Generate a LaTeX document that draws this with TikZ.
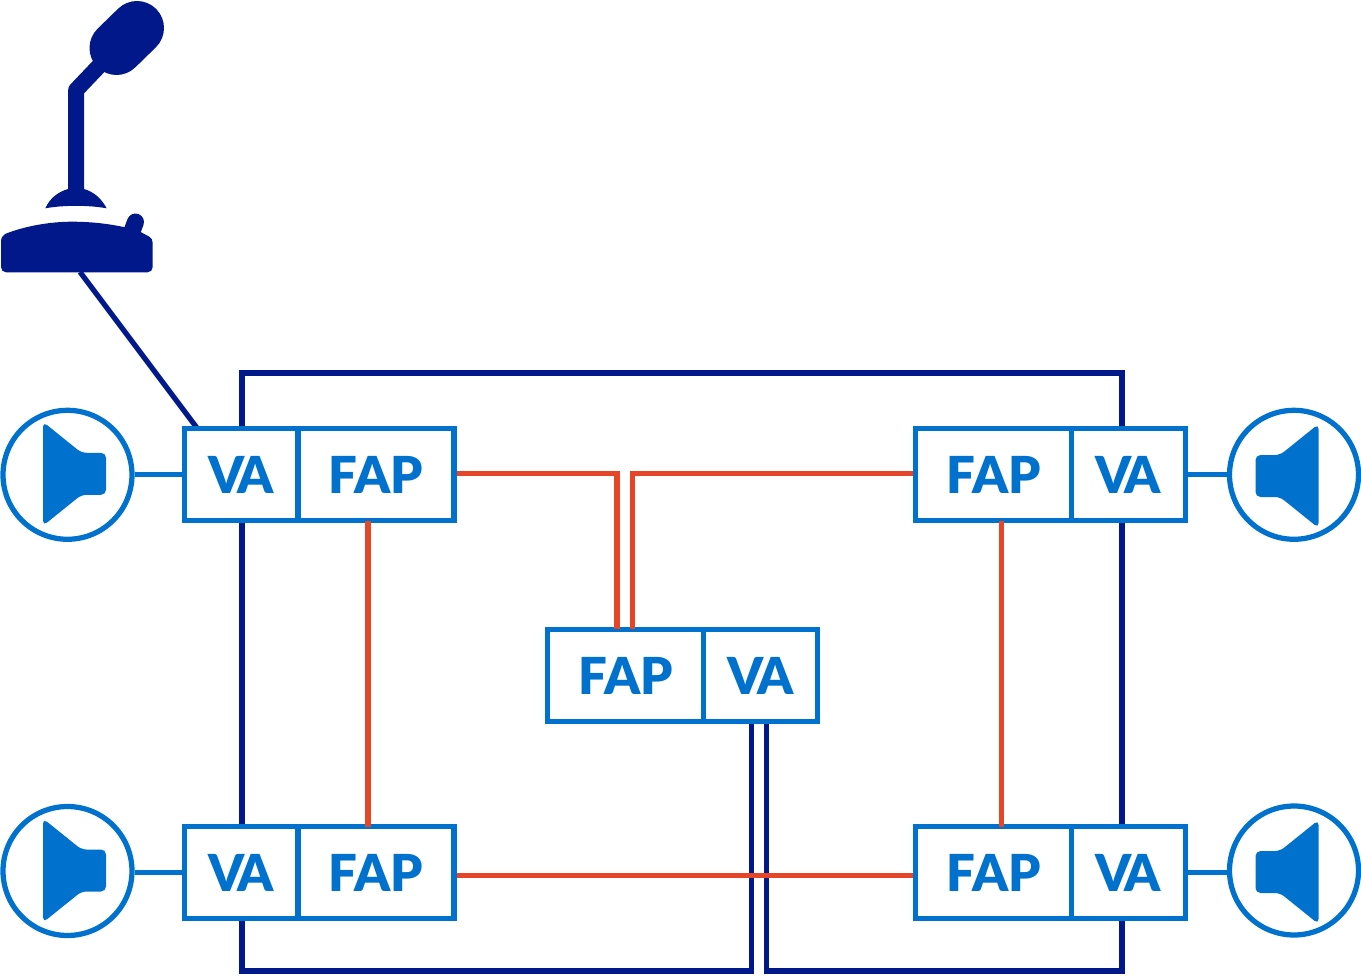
\documentclass[tikz,border=0pt]{standalone}
\usepackage{fontspec}
\setmainfont[BoldFont={Lato Black}]{Lato}
\usepackage{xcolor}
\usetikzlibrary{calc}
\definecolor{navy}{HTML}{00188A}
\definecolor{azure}{HTML}{0072CE}
\definecolor{signal}{HTML}{E64528}
\newcommand{\vatext}{V\kern-4pt A}

\begin{document}
\begin{tikzpicture}[x=0.02cm,y=-0.02cm]
\tikzset{
  vabox/.style={rectangle,draw=azure,fill=white,line width=0.105cm,minimum width=2.276cm,minimum height=1.84cm,inner sep=0pt,text=azure,font=\fontsize{29}{29}\selectfont\bfseries},
  fapbox/.style={vabox,minimum width=3.12cm},
  spkring/.style={circle,draw=azure,fill=white,line width=0.105cm,minimum size=2.58cm,inner sep=0pt},
  tapline/.style={draw=azure,line width=0.105cm},
  navyline/.style={draw=navy,line width=0.105cm},
  redline/.style={draw=signal,line width=0.105cm},
  spkglyph/.pic={
    \fill[azure,rounded corners=0.1cm] (-24.5,-52) -- (14,-21) -- (38.5,-21) -- (38.5,21) -- (14,21) -- (-24.5,52) -- cycle;
  }
}
\useasboundingbox (0,0) rectangle (1361,979);
% loop wiring
\coordinate (cTL) at (242,373);
\coordinate (cTR) at (1122,373);
\coordinate (cBL) at (242,971);
\coordinate (cBM) at (751.5,971);
\coordinate (cBN) at (766.5,971);
\coordinate (cBR) at (1122,971);
\coordinate (micfoot) at (80,272);
\coordinate (mictap) at (197,428);
\draw[navyline] (751.5,723) -- (cBM) -- (cBL) -- (cTL) -- (cTR) -- (cBR) -- (cBN) -- (766.5,723);
\draw[navyline] (micfoot) -- (mictap);
\node[vabox] (vaTL) at (241.4,474.8) {\vatext};
\node[fapbox] (fapTL) at (376,474.8) {FAP};
\node[vabox] (vaBL) at (241.4,872.5) {\vatext};
\node[fapbox] (fapBL) at (376,872.5) {FAP};
\node[fapbox] (fapTR) at (993.5,474.8) {FAP};
\node[vabox] (vaTR) at (1128.3,474.8) {\vatext};
\node[fapbox] (fapBR) at (993.5,872.5) {FAP};
\node[vabox] (vaBR) at (1128.3,872.5) {\vatext};
\node[fapbox] (fapM) at (625.5,675.8) {FAP};
\node[vabox] (vaM) at (760.5,675.8) {\vatext};
% red links
\draw[redline] (fapTL.east |- 0,473.3) -| (617,629);
\draw[redline] (fapTR.west |- 0,473.3) -| (632.8,629);
\draw[redline] (368,520.7) -- (368,826.5);
\draw[redline] (1001.5,520.7) -- (1001.5,826.5);
\draw[redline] (fapBL.east |- 0,875.5) -- (fapBR.west |- 0,875.5);
% speakers
\node[spkring] (spkTL) at (67.5,474.8) {};
\node[spkring] (spkBL) at (67.5,871) {};
\node[spkring] (spkTR) at (1294,474.8) {};
\node[spkring] (spkBR) at (1294,870.5) {};
\pic at (67.5,473.8) {spkglyph};
\pic at (67.5,870.5) {spkglyph};
\pic[xscale=-1] at (1294,476) {spkglyph};
\pic[xscale=-1] at (1294,872) {spkglyph};
\draw[tapline] (vaTL.west) -- (spkTL.east);
\draw[tapline] (vaBL.west) -- (vaBL.west -| spkBL.east);
\draw[tapline] (vaTR.east) -- (spkTR.west);
\draw[tapline] (vaBR.east) -- (vaBR.east -| spkBR.west);
% microphone
\draw[navy,line width=0.32cm,line join=round] (76.2,195) -- (76.2,90) -- (100,65);
\draw[navy,line width=1.08cm,line cap=round] (116.5,48) -- (137,28);
\fill[navy] (45.3,208.3) .. controls (50,198) and (58,192) .. (68,189) -- (84,189) .. controls (94,192) and (101,198) .. (106.7,208.3) .. controls (88,205) and (64,205) .. cycle;
\draw[navy,line width=0.34cm,line cap=round] (135.5,222) -- (131,234);
\fill[navy] (1,243) .. controls (1,238) and (2,236) .. (5,234) .. controls (25,226) and (50,221.7) .. (72,221.7) .. controls (92,221.7) and (110,224) .. (125,227.3) -- (140,231.7) -- (149,236.5) .. controls (151.5,238) and (152.7,240) .. (152.7,243) -- (152.7,267) .. controls (152.7,270) and (150.5,272.3) .. (147.7,272.3) -- (6,272.3) .. controls (3,272.3) and (1,270) .. (1,267) -- cycle;
\end{tikzpicture}
\end{document}
